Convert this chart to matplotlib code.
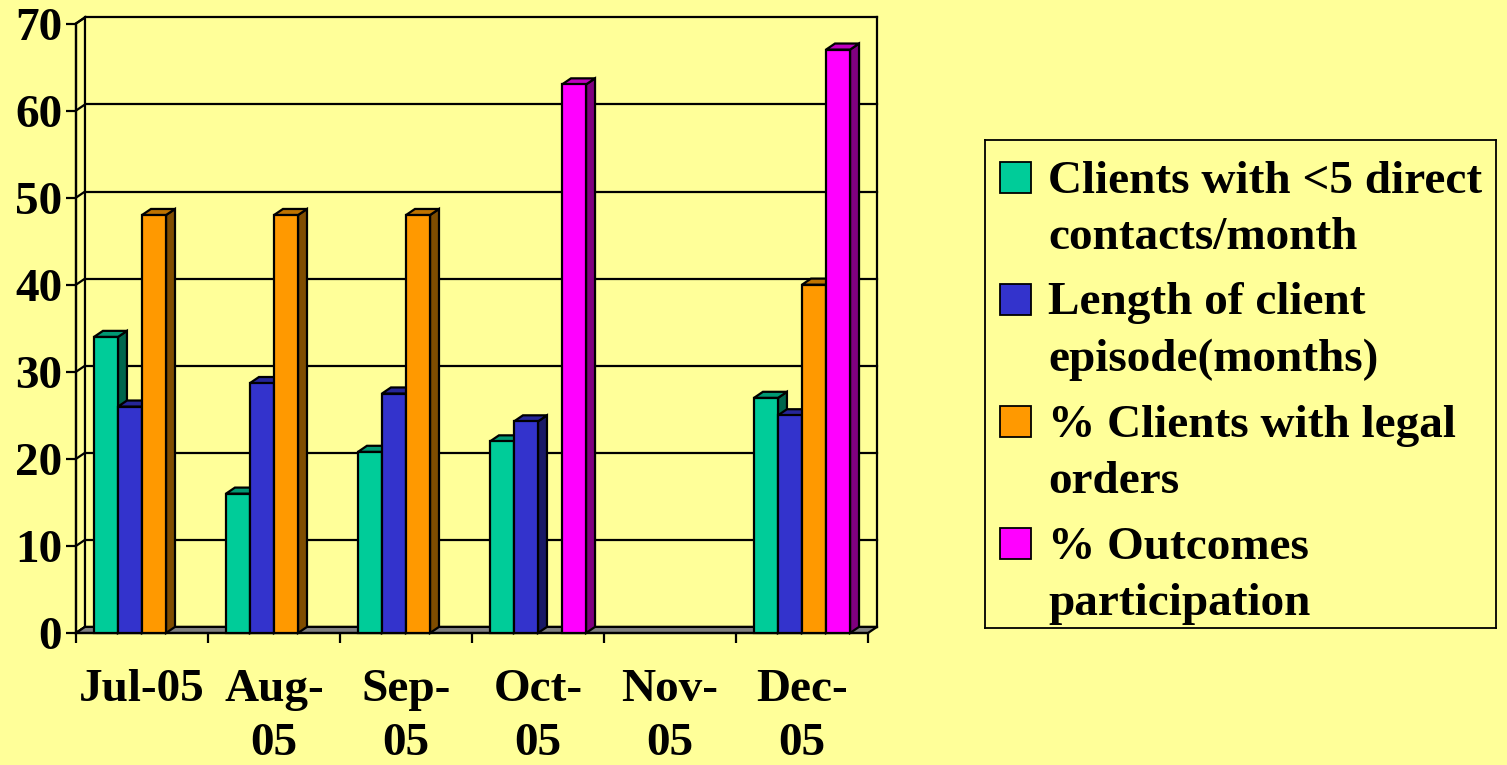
import matplotlib
matplotlib.use('Agg')
import matplotlib.pyplot as plt
import numpy as np
from matplotlib.patches import Polygon, Rectangle

months = ['Jul-05', 'Aug-\n05', 'Sep-\n05', 'Oct-\n05', 'Nov-\n05', 'Dec-\n05']
series_names = ['Clients with <5 direct\ncontacts/month',
                'Length of client\nepisode(months)',
                '% Clients with legal\norders',
                '% Outcomes\nparticipation']
# nan = no bar
clients_lt5 = [34, 16, 20.8, 22, np.nan, 27]
episode_len = [26, 28.7, 27.5, 24.3, np.nan, 25]
legal_orders = [48, 48, 48, np.nan, np.nan, 40]
outcomes = [np.nan, np.nan, np.nan, 63, np.nan, 67]
yticks = [0, 10, 20, 30, 40, 50, 60, 70]

DATA = [clients_lt5, episode_len, legal_orders, outcomes]
COLORS = ['#00CC99', '#3333CC', '#FF9900', '#FF00FF']
BG = '#FFFF99'

plt.rcParams['font.family'] = ['Liberation Serif', 'DejaVu Serif']
plt.rcParams['font.weight'] = 'bold'
FS = 34
LSP = 1.44

W, H = 1507, 765
fig = plt.figure(figsize=(W/100, H/100), dpi=100, facecolor=BG)
ax1 = fig.add_axes([76/W, 132/H, 792/W, 609.5/H])
ax1.set_facecolor('none')
ax1.set_xlim(0, len(months))
ax1.set_ylim(0, 70)

DX = 0.068   # depth in category units
DY = 0.7     # depth in value units
BAR_W = 0.182
GAP = 0.136
LW = 1.6
nx = len(months)

# back wall + gridlines
for v in yticks:
    ax1.plot([DX, nx + DX], [v + DY, v + DY], color='black', lw=LW, zorder=1, clip_on=False)
    ax1.plot([0, DX], [v, v + DY], color='black', lw=LW, zorder=2, clip_on=False)
ax1.plot([nx + DX, nx + DX], [DY, 70 + DY], color='black', lw=LW, zorder=1, clip_on=False)
ax1.add_patch(Polygon([(0, 0), (DX, DY), (DX, 70 + DY), (0, 70)], closed=True,
                      facecolor=BG, edgecolor='black', lw=LW, zorder=1.5, clip_on=False))
# floor
ax1.add_patch(Polygon([(0, 0), (nx, 0), (nx + DX, DY), (DX, DY)], closed=True,
                      facecolor='#808080', edgecolor='black', lw=LW, zorder=2, clip_on=False))


def shade(c, f):
    r, g, b = matplotlib.colors.to_rgb(c)
    return (r*f, g*f, b*f)


z = 3
for i in range(nx):
    for j, vals in enumerate(DATA):
        v = vals[i]
        if np.isnan(v):
            continue
        x0 = i + GAP + j*BAR_W
        x1 = x0 + BAR_W
        c = COLORS[j]
        ax1.add_patch(Polygon([(x1, 0), (x1 + DX, DY), (x1 + DX, v + DY), (x1, v)], closed=True,
                              facecolor=shade(c, 0.5), edgecolor='black', lw=LW, zorder=z, clip_on=False))
        ax1.add_patch(Polygon([(x0, v), (x0 + DX, v + DY), (x1 + DX, v + DY), (x1, v)], closed=True,
                              facecolor=shade(c, 0.75), edgecolor='black', lw=LW, zorder=z, clip_on=False))
        ax1.bar(x0, v, BAR_W, align='edge', color=c, edgecolor='black', lw=LW, zorder=z + 0.5, clip_on=False)
        z += 1

ax1.spines['right'].set_visible(False)
ax1.spines['top'].set_visible(False)
ax1.spines['left'].set_linewidth(LW)
ax1.spines['bottom'].set_linewidth(LW)
ax1.spines['left'].set_zorder(2.5)
ax1.spines['bottom'].set_zorder(2.5)

ax1.set_yticks(yticks)
ax1.set_yticklabels([str(t) for t in yticks], fontsize=FS, fontweight='bold')
ax1.tick_params(axis='y', length=7, width=LW, pad=3, direction='out')

ax1.set_xticks(np.arange(nx) + 0.5)
ax1.set_xticklabels(months, fontsize=FS, fontweight='bold', linespacing=1.38)
ax1.set_xticks(np.arange(nx + 1), minor=True)
ax1.tick_params(axis='x', which='major', length=0, pad=26)
ax1.tick_params(axis='x', which='minor', length=7, width=LW, direction='out')

# legend box
lx0, ly0, lx1, ly1 = 985, 140, 1496, 628
lax = fig.add_axes([lx0/W, (H - ly1)/H, (lx1 - lx0)/W, (ly1 - ly0)/H])
lax.set_xlim(0, lx1 - lx0)
lax.set_ylim(ly1 - ly0, 0)
lax.set_facecolor(BG)
lax.set_xticks([])
lax.set_yticks([])
for s in lax.spines.values():
    s.set_linewidth(1.3)
ENTRY_H = 122
LINE_H = 56
for j, name in enumerate(series_names):
    top = 22 + j*ENTRY_H
    lax.add_patch(Rectangle((15, top), 31, 31, facecolor=COLORS[j], edgecolor='black', lw=1.3))
    # baseline of the second line
    lax.text(63, top + 31 + LINE_H, name, fontsize=FS, fontweight='bold', va='baseline', ha='left',
             linespacing=LSP)

plt.savefig('out.png', dpi=100, facecolor=BG)
